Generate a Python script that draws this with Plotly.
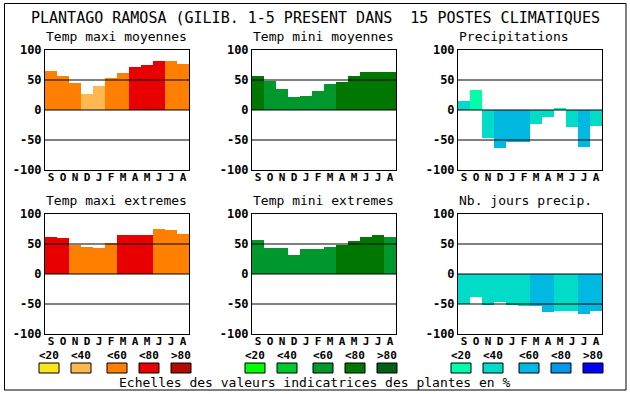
import plotly.graph_objects as go

W, H = 630, 394

months = ["S", "O", "N", "D", "J", "F", "M", "A", "M", "J", "J", "A"]

title_text = "PLANTAGO RAMOSA (GILIB. 1-5 PRESENT DANS  15 POSTES CLIMATIQUES"
panel_titles = ["Temp maxi moyennes", "Temp mini moyennes", "Precipitations",
                "Temp maxi extremes", "Temp mini extremes", "Nb. jours precip."]

temp_maxi_moy = [65, 57, 45, 27, 40, 53, 62, 72, 75, 82, 82, 77]
temp_maxi_moy_cls = [2, 2, 2, 1, 1, 2, 2, 3, 3, 3, 2, 2]

temp_mini_moy = [57, 49, 35, 22, 23, 32, 43, 47, 57, 63, 63, 63]
temp_mini_moy_cls = [3, 2, 2, 2, 2, 2, 2, 3, 3, 3, 3, 3]

precip = [15, 33, -46, -64, -54, -54, -24, -12, 2, -28, -61, -26]
precip_cls = [1, 0, 1, 2, 2, 2, 1, 1, 0, 1, 2, 1]

temp_maxi_ext = [62, 60, 49, 45, 44, 52, 65, 65, 65, 75, 74, 67]
temp_maxi_ext_cls = [3, 3, 2, 2, 2, 2, 3, 3, 3, 2, 2, 2]

temp_mini_ext = [57, 44, 44, 32, 42, 42, 45, 49, 55, 62, 65, 62]
temp_mini_ext_cls = [2, 2, 2, 2, 2, 2, 2, 3, 3, 3, 3, 2]

nb_jours = [-50, -38, -52, -47, -52, -54, -54, -64, -61, -62, -66, -62]
nb_jours_cls = [1, 1, 1, 1, 1, 1, 2, 2, 1, 1, 2, 2]

scale_labels = ["<20", "<40", "<60", "<80", ">80"]
temp_colors = ["#FAE41C", "#FFB850", "#FF8000", "#E80000", "#B00C00"]
green_colors = ["#00FF00", "#00C830", "#00982C", "#007800", "#006018"]
blue_colors = ["#00FFAA", "#00DCC8", "#00B8E0", "#0098E8", "#0000FF"]

y_ticks = [100, 50, 0, -50, -100]
ref_lines = [50, 0, -50]

footer = "Echelles des valeurs indicatrices des plantes en %"

FONT = "DejaVu Sans Mono"

# layout geometry in pixels
col_x = [(45, 189), (252, 396), (458, 602)]
row_y = [(50, 170), (214, 334)]


def px(x):
    return x / W


def py(y):
    return 1 - y / H


panels = [
    (temp_maxi_moy, temp_maxi_moy_cls, temp_colors),
    (temp_mini_moy, temp_mini_moy_cls, green_colors),
    (precip, precip_cls, blue_colors),
    (temp_maxi_ext, temp_maxi_ext_cls, temp_colors),
    (temp_mini_ext, temp_mini_ext_cls, green_colors),
    (nb_jours, nb_jours_cls, blue_colors),
]

fig = go.Figure()
shapes = []
annotations = []
layout = {}

for i, (vals, cls, pal) in enumerate(panels):
    r, c = divmod(i, 3)
    n = i + 1
    xa = "x" if n == 1 else f"x{n}"
    ya = "y" if n == 1 else f"y{n}"
    fig.add_trace(go.Bar(
        x=list(range(len(months))), y=vals,
        marker=dict(color=[pal[k] for k in cls], line=dict(width=0)),
        xaxis=xa, yaxis=ya, showlegend=False, hoverinfo="skip",
    ))
    x0, x1 = col_x[c]
    y0, y1 = row_y[r]
    layout[f"xaxis{'' if n == 1 else n}"] = dict(
        domain=[px(x0), px(x1)], anchor=ya, range=[-0.5, 11.5],
        tickvals=list(range(12)), ticktext=months, ticks="",
        ticklabelstandoff=-3,
        tickfont=dict(family=FONT, size=11, color="black", weight="bold"),
        showline=True, linecolor="black", linewidth=1, mirror=True,
        showgrid=False, zeroline=False, fixedrange=True, automargin=False,
    )
    layout[f"yaxis{'' if n == 1 else n}"] = dict(
        domain=[py(y1), py(y0)], anchor=xa, range=[-100, 100],
        tickvals=y_ticks, ticktext=[str(t) for t in y_ticks], ticks="",
        tickfont=dict(family=FONT, size=12, color="black", weight="bold"),
        showline=True, linecolor="black", linewidth=1, mirror=True,
        showgrid=False, zeroline=False, fixedrange=True, automargin=False,
    )
    for lv in ref_lines:
        shapes.append(dict(type="line", xref=f"{xa} domain", yref=ya,
                           x0=0, x1=1, y0=lv, y1=lv, layer="above",
                           line=dict(color="black", width=1)))
    annotations.append(dict(
        text=panel_titles[i], xref="paper", yref="paper",
        x=px(x0 - 1), y=py(y0 - 4), xanchor="left", yanchor="bottom",
        showarrow=False, font=dict(family=FONT, size=13, color="black"),
    ))

# main title
annotations.append(dict(
    text=title_text, xref="paper", yref="paper", x=px(315), y=py(18),
    xanchor="center", yanchor="middle", showarrow=False,
    font=dict(family=FONT, size=15, color="black"),
))

# colour scales
sw_offsets = [0, 32, 68, 100, 132]
group_x = [39, 245, 451]
for gx, pal in zip(group_x, [temp_colors, green_colors, blue_colors]):
    for off, col, lab in zip(sw_offsets, pal, scale_labels):
        sx = gx + off
        shapes.append(dict(type="rect", xref="paper", yref="paper",
                           x0=px(sx), x1=px(sx + 20), y0=py(373), y1=py(363),
                           fillcolor=col, line=dict(color="black", width=1)))
        annotations.append(dict(
            text=lab, xref="paper", yref="paper", x=px(sx + 10), y=py(355),
            xanchor="center", yanchor="middle", showarrow=False,
            font=dict(family=FONT, size=11, color="black", weight="bold"),
        ))

annotations.append(dict(
    text=footer, xref="paper", yref="paper", x=px(315), y=py(382),
    xanchor="center", yanchor="middle", showarrow=False,
    font=dict(family=FONT, size=13, color="black"),
))

# outer frame
shapes.append(dict(type="rect", xref="paper", yref="paper",
                   x0=px(4.5), x1=px(626), y0=py(390), y1=py(3.5),
                   line=dict(color="black", width=1), fillcolor="rgba(0,0,0,0)"))

fig.update_layout(
    width=W, height=H, margin=dict(l=0, r=0, t=0, b=0, autoexpand=False),
    paper_bgcolor="white", plot_bgcolor="white",
    bargap=0, shapes=shapes, annotations=annotations, **layout,
)

fig.write_html(
    "out.html",
    config=dict(displayModeBar=False),
    post_script="document.body.style.margin='0';document.body.style.overflow='hidden';",
)
